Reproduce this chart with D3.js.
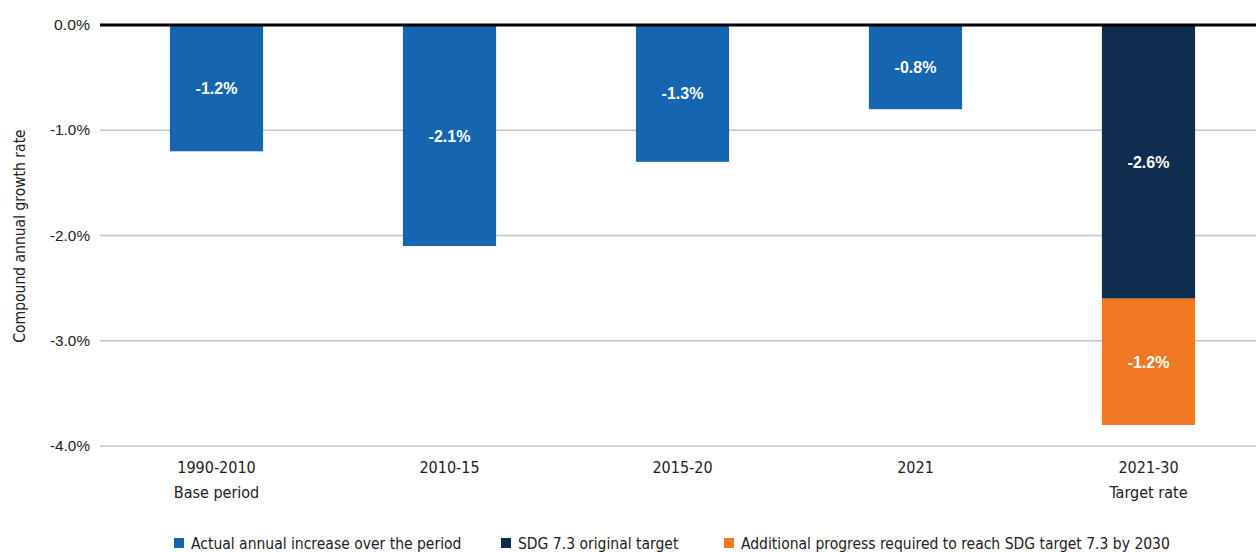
<!DOCTYPE html>
<html>
<head>
<meta charset="utf-8">
<script src="https://cdn.jsdelivr.net/npm/d3@7"></script>
<style>
  body { margin: 0; background: #fff; }
  svg { display: block; }
  .cond { font-family: "Liberation Sans Narrow", "DejaVu Sans Condensed", "Roboto Condensed", sans-serif; }
</style>
</head>
<body>
<svg id="chart" width="1256" height="552"></svg>
<script>
// ===== data =====
let categories = ['1990-2010|Base period', '2010-15', '2015-20', '2021', '2021-30|Target rate'];
let actual = [-1.2, -2.1, -1.3, -0.8, null];
let original = [null, null, null, null, -2.6];
let additional = [null, null, null, null, -1.2];
let yTicks = [0, -1, -2, -3, -4];
let legendLabels = ['Actual annual increase over the period', 'SDG 7.3 original target', 'Additional progress required to reach SDG target 7.3 by 2030'];

let colors = ['#1565b0', '#0f2d4f', '#f07823'];

let width = 1256;
let height = 552;
let margin = { top: 25, left: 100 };

// hyphen instead of unicode minus
let fmt = d3.formatLocale({ decimal: '.', thousands: ',', grouping: [3], currency: ['', ''], minus: '-' }).format('.1f');

let svg = d3.select('#chart');

let x = d3.scaleBand()
  .domain(categories)
  .range([margin.left, 1265])
  .paddingInner(0.6)
  .paddingOuter(0.3);

let y = d3.scaleLinear()
  .domain([0, -4])
  .range([25, 446]);

// gridlines
svg.append('g')
  .selectAll('line')
  .data(yTicks.filter(d => d != 0))
  .enter()
  .append('line')
  .attr('x1', margin.left)
  .attr('x2', width)
  .attr('y1', d => y(d))
  .attr('y2', d => y(d))
  .attr('stroke', '#c4c4c4')
  .attr('stroke-width', 1.5);

// y axis labels
svg.append('g')
  .selectAll('text')
  .data(yTicks)
  .enter()
  .append('text')
  .attr('x', 90)
  .attr('y', d => y(d) + 5)
  .attr('text-anchor', 'end')
  .style('font-family', '"Liberation Sans", Arial, sans-serif')
  .style('font-size', '15px')
  .attr('fill', '#222')
  .attr('textLength', d => d == 0 ? 36 : 40)
  .attr('lengthAdjust', 'spacingAndGlyphs')
  .text(d => fmt(d) + '%');

svg.append('text')
  .attr('class', 'cond')
  .attr('transform', 'translate(25,236) rotate(-90)')
  .attr('text-anchor', 'middle')
  .style('font-size', '15.5px')
  .attr('fill', '#222')
  .text('Compound annual growth rate');

// build stacks
let rows = categories.map(function (c, i) {
  let segs = [];
  let base = 0;
  [actual[i], original[i], additional[i]].forEach(function (v, k) {
    if (v != null) {
      segs.push({ cat: c, k: k, y0: base, y1: base + v, v: v });
      base += v;
    }
  });
  return segs;
});
let segs = rows.flat();

svg.append('g')
  .selectAll('rect')
  .data(segs)
  .enter()
  .append('rect')
  .attr('x', d => x(d.cat))
  .attr('width', x.bandwidth())
  .attr('y', d => y(d.y0))
  .attr('height', d => y(d.y1) - y(d.y0))
  .attr('fill', d => colors[d.k]);

svg.append('g')
  .selectAll('text')
  .data(segs)
  .enter()
  .append('text')
  .attr('x', d => x(d.cat) + x.bandwidth() / 2)
  .attr('y', d => (y(d.y0) + y(d.y1)) / 2 + 6)
  .attr('text-anchor', 'middle')
  .style('font-family', '"Liberation Sans", Arial, sans-serif')
  .style('font-weight', 'bold')
  .style('font-size', '16px')
  .attr('fill', '#fff')
  .text(d => fmt(d.v) + '%');

// zero line
svg.append('line')
  .attr('x1', margin.left)
  .attr('x2', width)
  .attr('y1', y(0))
  .attr('y2', y(0))
  .attr('stroke', '#000')
  .attr('stroke-width', 3);

// x labels
let xl = svg.append('g')
  .selectAll('text')
  .data(categories)
  .enter()
  .append('text')
  .attr('class', 'cond')
  .attr('text-anchor', 'middle')
  .style('font-size', '16px')
  .attr('fill', '#222');

xl.selectAll('tspan')
  .data(d => d.split('|').map(t => ({ t: t, c: d })))
  .enter()
  .append('tspan')
  .attr('x', d => x(d.c) + x.bandwidth() / 2)
  .attr('y', (d, i) => 473 + i * 25)
  .text(d => d.t);

// legend
let legendX = [174, 501, 724];
let legend = svg.selectAll('.legend')
  .data(legendLabels)
  .enter()
  .append('g')
  .attr('class', 'legend')
  .attr('transform', (d, i) => 'translate(' + legendX[i] + ',538)');

legend.append('rect')
  .attr('width', 10)
  .attr('height', 10)
  .attr('fill', (d, i) => colors[i]);

legend.append('text')
  .attr('class', 'cond')
  .attr('x', 17)
  .attr('y', 11)
  .style('font-size', '15.5px')
  .attr('fill', '#222')
  .text(d => d);
</script>
</body>
</html>
